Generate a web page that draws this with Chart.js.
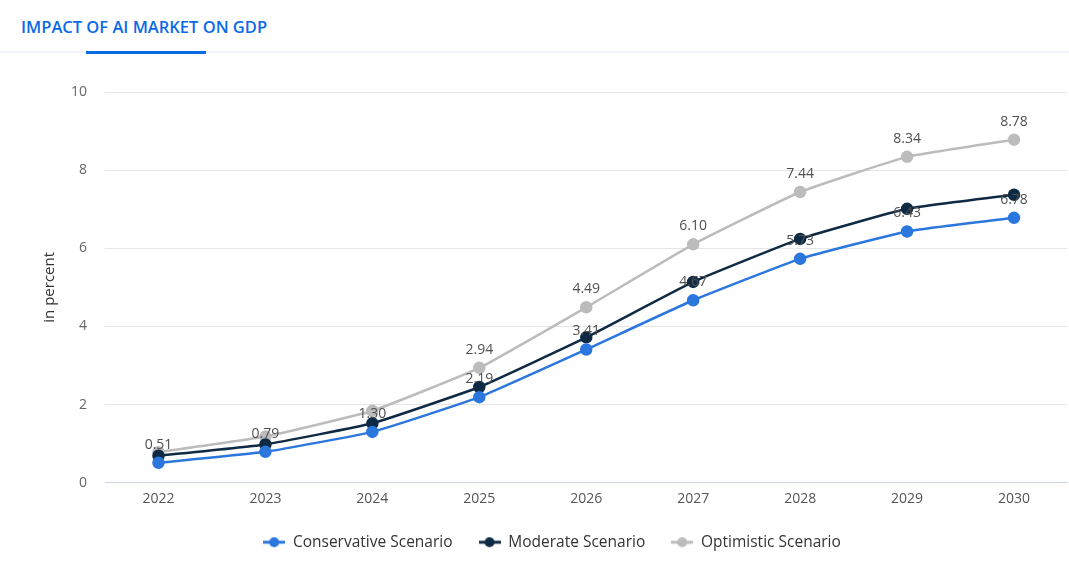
<!DOCTYPE html>
<html>
<head>
<meta charset="utf-8">
<script src="https://cdn.jsdelivr.net/npm/chart.js@4"></script>
<style>
  html, body { margin: 0; padding: 0; background: #fff; }
  body { width: 1069px; height: 568px; position: relative; overflow: hidden; font-family: "Open Sans", sans-serif; }
  #title { position: absolute; left: 21px; top: 15px; font-size: 16.5px; font-weight: 600; color: #0a6ae6; }
  #rule { position: absolute; left: 0; top: 51px; width: 1069px; height: 2px; background: #f0f3f7; }
  #tab { position: absolute; left: 86px; top: 51px; width: 120px; height: 3px; background: #0a6ae6; }
  #wrap { position: absolute; left: 0; top: 60px; width: 1075px; height: 508px; }
</style>
</head>
<body>
<div id="title">IMPACT OF AI MARKET ON GDP</div>
<div id="rule"></div>
<div id="tab"></div>
<div id="wrap"><canvas id="myChart"></canvas></div>
<script>
const years = ["2022", "2023", "2024", "2025", "2026", "2027", "2028", "2029", "2030"];
const conservative = [0.51, 0.79, 1.30, 2.19, 3.41, 4.67, 5.73, 6.43, 6.78];
const moderate = [0.69, 0.98, 1.52, 2.45, 3.72, 5.14, 6.24, 7.01, 7.37];
const optimistic = [0.78, 1.18, 1.84, 2.94, 4.49, 6.10, 7.44, 8.34, 8.78];
// which points get a visible value label (others are hidden by overlap in the original)
const labelFrom = { conservative: 0, moderate: 99, optimistic: 3 };

const FONT = "'Open Sans', sans-serif";

function legendMarker(color) {
  const c = document.createElement("canvas");
  c.width = 22; c.height = 12;
  const ctx = c.getContext("2d");
  ctx.strokeStyle = color; ctx.lineWidth = 3;
  ctx.beginPath(); ctx.moveTo(0, 6); ctx.lineTo(22, 6); ctx.stroke();
  ctx.fillStyle = color;
  ctx.beginPath(); ctx.arc(11, 6, 5, 0, Math.PI * 2); ctx.fill();
  return c;
}

const valueLabels = {
  id: "valueLabels",
  afterDatasetsDraw(chart) {
    const ctx = chart.ctx;
    ctx.save();
    ctx.font = "14px " + FONT;
    ctx.fillStyle = "#505050";
    ctx.textAlign = "center";
    ctx.textBaseline = "middle";
    chart.data.datasets.forEach((ds, i) => {
      const meta = chart.getDatasetMeta(i);
      meta.data.forEach((pt, j) => {
        if (j < ds.labelFrom) return;
        ctx.fillText(ds.data[j].toFixed(2), pt.x, pt.y - 18);
      });
    });
    ctx.restore();
  }
};

const mk = (label, data, color, from) => ({
  label, data, labelFrom: from,
  borderColor: color, backgroundColor: color,
  pointBackgroundColor: color, pointBorderColor: color,
  borderWidth: 2.5, pointRadius: 5, pointHoverRadius: 5,
  tension: 0.12,
  marker: legendMarker(color)
});

new Chart(document.getElementById("myChart").getContext("2d"), {
  type: "line",
  data: {
    labels: years,
    datasets: [
      mk("Conservative Scenario", conservative, "#2b77dd", labelFrom.conservative),
      mk("Moderate Scenario", moderate, "#0f2a44", labelFrom.moderate),
      mk("Optimistic Scenario", optimistic, "#bcbcbc", labelFrom.optimistic)
    ]
  },
  options: {
    responsive: true,
    maintainAspectRatio: false,
    animation: false,
    layout: { padding: { top: 32, right: 1, left: 30, bottom: 8 } },
    plugins: {
      tooltip: { enabled: false },
      legend: {
        position: "bottom",
        labels: {
          usePointStyle: true,
          pointStyleWidth: 22,
          padding: 26,
          color: "#333",
          font: { family: FONT, size: 15.5 },
          generateLabels(chart) {
            return chart.data.datasets.map((ds, i) => ({
              text: ds.label, pointStyle: ds.marker, fillStyle: ds.borderColor,
              strokeStyle: ds.borderColor, lineWidth: 0, datasetIndex: i, hidden: false, fontColor: "#333"
            }));
          }
        }
      }
    },
    scales: {
      x: {
        offset: true,
        afterFit(s) { s.height -= 7; },
        grid: { display: false, drawTicks: false, offset: true },
        border: { color: "#ccd6eb", width: 1 },
        ticks: { color: "#555", padding: 8, font: { family: FONT, size: 14 } }
      },
      y: {
        min: 0, max: 10,
        afterFit(s) { s.width = 75; },
        grid: { color: "#e6e6e6", drawTicks: false },
        border: { display: false },
        ticks: { stepSize: 2, color: "#666", padding: 18, font: { family: FONT, size: 14 } },
        title: { display: true, text: "in percent", color: "#333", padding: { top: 11, bottom: 0 }, font: { family: FONT, size: 15 } }
      }
    }
  },
  plugins: [valueLabels]
});
</script>
</body>
</html>
